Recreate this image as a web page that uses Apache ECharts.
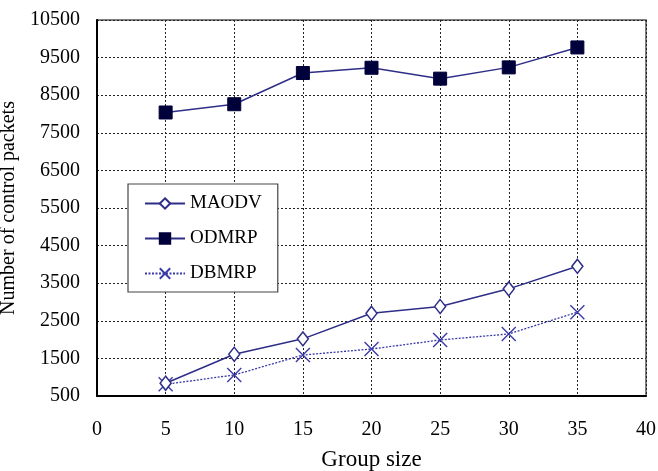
<!DOCTYPE html>
<html>
<head>
<meta charset="utf-8">
<script src="https://cdn.jsdelivr.net/npm/echarts@6/dist/echarts.min.js"></script>
<style>
  html, body { margin: 0; padding: 0; background: #fff; }
  #chart { width: 658px; height: 471px; }
</style>
</head>
<body>
<div id="chart"></div>
<script>
// Group sizes on the x axis
const groupSizes = [5, 10, 15, 20, 25, 30, 35];
// Number of control packets per protocol
const maodv = [840, 1610, 2020, 2700, 2880, 3350, 3950];
const odmrp = [8040, 8260, 9090, 9230, 8940, 9240, 9770];
const dbmrp = [810, 1060, 1590, 1750, 1990, 2150, 2730];
// Y tick labels
const yTicks = [500, 1500, 2500, 3500, 4500, 5500, 6500, 7500, 8500, 9500, 10500];

const FONT = '"Liberation Serif", "Times New Roman", serif';
const NAVY = '#2e2e88';

const pairs = vals => groupSizes.map((g, i) => [g, vals[i]]);

const chart = echarts.init(document.getElementById('chart'));
chart.setOption({
  animation: false,
  backgroundColor: '#fff',
  grid: {
    left: 97, right: 12, top: 20, bottom: 75,
    outerBoundsMode: 'none',
    show: true, borderColor: '#555', borderWidth: 1.5, backgroundColor: 'transparent'
  },
  legend: {
    orient: 'vertical',
    left: 128, top: 184,
    padding: [10, 16, 9, 16],
    itemGap: 16,
    itemWidth: 40, itemHeight: 13,
    backgroundColor: '#fff',
    borderColor: '#444', borderWidth: 1.2,
    textStyle: { fontFamily: FONT, fontSize: 19, color: '#000' },
    data: ['MAODV', 'ODMRP', 'DBMRP']
  },
  xAxis: {
    type: 'value', min: 0, max: 40, interval: 5,
    name: 'Group size', nameLocation: 'middle', nameGap: 52,
    nameTextStyle: { fontFamily: FONT, fontSize: 23, color: '#000' },
    axisLine: { onZero: false, lineStyle: { color: '#000', width: 2 } },
    axisTick: { show: false },
    axisLabel: { margin: 24, fontFamily: FONT, fontSize: 20, color: '#000' },
    splitLine: { show: true, lineStyle: { color: '#222', type: [2, 2], width: 1 } }
  },
  yAxis: {
    type: 'value', min: 500, max: 10500,
    name: 'Number of control packets', nameLocation: 'middle', nameGap: 76,
    nameTextStyle: { fontFamily: FONT, fontSize: 20, color: '#000' },
    axisLine: { onZero: false, lineStyle: { color: '#000', width: 2 } },
    axisTick: { show: false, customValues: yTicks },
    axisLabel: {
      margin: 17, fontFamily: FONT, fontSize: 20, color: '#000',
      customValues: yTicks, formatter: v => String(v)
    },
    splitLine: { show: true, lineStyle: { color: '#222', type: [2, 2], width: 1 } }
  },
  series: [
    {
      name: 'MAODV', type: 'line', data: pairs(maodv),
      symbol: 'diamond', symbolSize: [11, 14],
      lineStyle: { color: NAVY, width: 1.5 },
      itemStyle: { color: '#fff', borderColor: NAVY, borderWidth: 1.5 },
      z: 3
    },
    {
      name: 'ODMRP', type: 'line', data: pairs(odmrp),
      symbol: 'rect', symbolSize: 13,
      lineStyle: { color: NAVY, width: 1.5 },
      itemStyle: { color: '#00003a', borderColor: '#00003a', borderWidth: 1 },
      z: 3
    },
    {
      name: 'DBMRP', type: 'line', data: pairs(dbmrp),
      symbol: 'path://M0,0L10,10M10,0L0,10', symbolSize: 14,
      lineStyle: { color: '#3a3aa8', width: 1.3, type: [2, 1.5] },
      itemStyle: { color: 'transparent', borderColor: '#3a3aa8', borderWidth: 1.4 },
      z: 2
    }
  ]
});
</script>
</body>
</html>
